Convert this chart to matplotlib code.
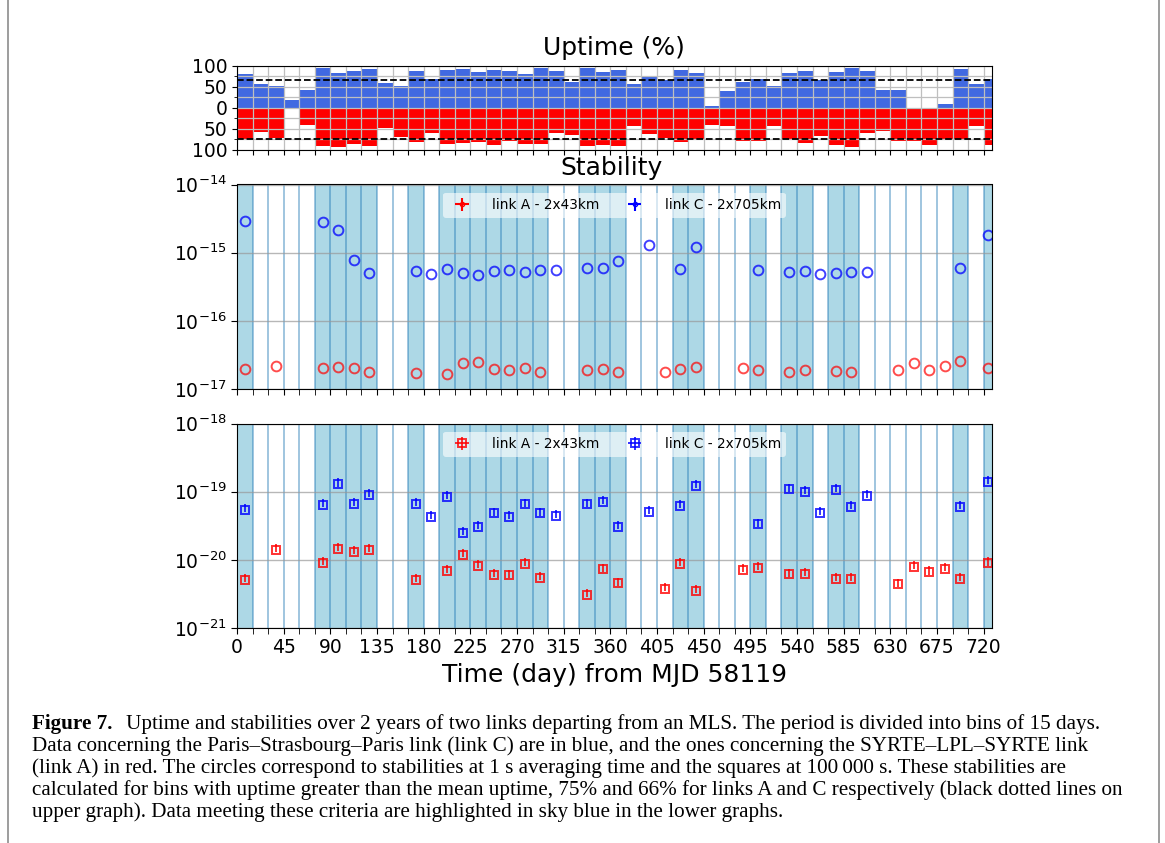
import numpy as np
import matplotlib
matplotlib.use("Agg")
import matplotlib.pyplot as plt
from matplotlib.ticker import FuncFormatter, NullLocator
from matplotlib.lines import Line2D

nan = np.nan

# bins of 15 days, the last one is cut at the end of the period
bin_edges = list(range(0, 721, 15)) + [728]

# uptime (%) per bin
uptime_C = [80, 56, 51, 18, 42, 94, 82, 87, 91, 59, 51, 87, 68, 89, 92, 85, 90, 88, 80, 94,
            88, 60, 95, 84, 90, 55, 76, 66, 90, 81, 4, 39, 60, 68, 51, 82, 88, 66, 84, 94,
            87, 42, 42, 0, 0, 8, 91, 56, 68]
uptime_A = [78, 59, 73, 0, 41, 92, 95, 86, 91, 49, 70, 82, 61, 86, 84, 82, 90, 80, 86, 86,
            61, 65, 91, 90, 91, 43, 62, 73, 82, 77, 41, 45, 80, 80, 43, 78, 84, 68, 90, 94,
            61, 55, 80, 80, 90, 74, 76, 45, 90]
mean_C = 66
mean_A = 75

# stability at 1 s (circles)
adev1_C = [2.9e-15, nan, nan, nan, nan, 2.8e-15, 2.15e-15, 7.8e-16, 5.1e-16, nan,
           nan, 5.3e-16, 4.85e-16, 5.7e-16, 5.1e-16, 4.7e-16, 5.3e-16, 5.5e-16, 5.2e-16, 5.5e-16,
           5.5e-16, nan, 5.9e-16, 6.0e-16, 7.6e-16, nan, 1.31e-15, nan, 5.7e-16, 1.21e-15,
           nan, nan, nan, 5.5e-16, nan, 5.2e-16, 5.4e-16, 4.9e-16, 4.95e-16, 5.2e-16,
           5.2e-16, nan, nan, nan, nan, nan, 6.0e-16, nan, 1.8e-15]
adev1_A = [1.95e-17, nan, 2.15e-17, nan, nan, 2.06e-17, 2.1e-17, 2.06e-17, 1.76e-17, nan,
           nan, 1.7e-17, nan, 1.64e-17, 2.38e-17, 2.46e-17, 1.95e-17, 1.9e-17, 2.0e-17, 1.75e-17,
           nan, nan, 1.9e-17, 1.95e-17, 1.8e-17, nan, nan, 1.75e-17, 1.95e-17, 2.1e-17,
           nan, nan, 2.06e-17, 1.9e-17, nan, 1.76e-17, 1.9e-17, nan, 1.85e-17, 1.78e-17,
           nan, nan, 1.9e-17, 2.38e-17, 1.9e-17, 2.15e-17, 2.55e-17, nan, 2.06e-17]

# stability at 100 000 s (squares)
adev5_C = [5.4e-20, nan, nan, nan, nan, 6.35e-20, 1.28e-19, 6.7e-20, 8.9e-20, nan,
           nan, 6.7e-20, 4.3e-20, 8.4e-20, 2.5e-20, 3.06e-20, 4.8e-20, 4.2e-20, 6.5e-20, 4.8e-20,
           4.4e-20, nan, 6.5e-20, 7.1e-20, 3.06e-20, nan, 5.07e-20, nan, 6.2e-20, 1.22e-19,
           nan, nan, nan, 3.3e-20, nan, 1.08e-19, 1.0e-19, 4.9e-20, 1.05e-19, 6.0e-20,
           8.6e-20, nan, nan, nan, nan, nan, 6.0e-20, nan, 1.4e-19]
adev5_A = [5.06e-21, nan, 1.39e-20, nan, nan, 9.1e-21, 1.44e-20, 1.31e-20, 1.39e-20, nan,
           nan, 5.06e-21, nan, 6.85e-21, 1.17e-20, 8.2e-21, 5.98e-21, 5.9e-21, 8.67e-21, 5.35e-21,
           nan, nan, 3.05e-21, 7.24e-21, 4.5e-21, nan, nan, 3.7e-21, 8.6e-21, 3.49e-21,
           nan, nan, 7.08e-21, 7.5e-21, nan, 6.1e-21, 6.3e-21, nan, 5.2e-21, 5.2e-21,
           nan, nan, 4.36e-21, 7.94e-21, 6.55e-21, 7.33e-21, 5.2e-21, nan, 8.87e-21]

labels = ["link A - 2x43km", "link C - 2x705km"]

edges = np.array(bin_edges, dtype=float)
left = edges[:-1]
width = np.diff(edges)
centers = left + width / 2
upC = np.array(uptime_C)
upA = np.array(uptime_A)
good = (upC > mean_C) & (upA > mean_A)

W, H = 1165, 843
fig = plt.figure(figsize=(W / 100, H / 100), dpi=100)


def add_ax(l, t, r, b):
    return fig.add_axes([l / W, 1 - b / H, (r - l) / W, (b - t) / H])


tick_fs = 13.5
xmax = edges[-1]

# ---- uptime
ax0 = add_ax(237, 65.5, 992, 149.5)
ax0.bar(left, upC, width=width, align="edge", color="royalblue", lw=0)
ax0.bar(left, -upA, width=width, align="edge", color="red", lw=0)
ax0.axhline(mean_C, color="k", ls="--", lw=1.3, zorder=3)
ax0.axhline(-mean_A, color="k", ls="--", lw=1.3, zorder=3)
ax0.set_xlim(0, xmax)
ax0.set_ylim(-100, 100)
ax0.set_yticks([-100, -50, 0, 50, 100])
ax0.set_yticks([-75, -25, 25, 75], minor=True)
ax0.yaxis.set_major_formatter(FuncFormatter(lambda v, p: f"{abs(v):.0f}"))
ax0.set_xticks(edges[:-1])
ax0.set_xticklabels([])
ax0.grid(True, which="both", color="0.75", lw=0.9)
ax0.tick_params(labelsize=tick_fs)
fig.text(614 / W, 1 - 48 / H, "Uptime (%)", fontsize=18, ha="center", va="center")

# ---- stability
ax1 = add_ax(237, 184.5, 992, 389)
ax2 = add_ax(237, 423.5, 992, 628)
for ax, lims in ((ax1, (1e-17, 1e-14)), (ax2, (1e-21, 1e-18))):
    ax.set_yscale("log")
    ax.set_ylim(*lims)
    ax.set_xlim(0, xmax)
    for i in range(len(left)):
        if good[i]:
            ax.axvspan(edges[i], edges[i + 1], color="lightblue", lw=0, zorder=0)
    for e in edges[1:-1]:
        ax.axvline(e, color="tab:blue", alpha=0.5, lw=1.2, zorder=0.5)
    ax.yaxis.set_minor_locator(NullLocator())
    ax.grid(True, axis="y", color="0.6", lw=1.0, alpha=0.7)
    ax.set_xticks(range(0, 721, 45))
    ax.set_xticks(edges[:-1], minor=True)
    ax.tick_params(which="both", length=4, labelsize=tick_fs)

ax1.set_xticklabels([])
ax1.set_yticks([1e-17, 1e-16, 1e-15, 1e-14])
ax2.set_yticks([1e-21, 1e-20, 1e-19, 1e-18])
fig.text(612 / W, 1 - 168 / H, "Stability", fontsize=18, ha="center", va="center")

ax1.plot(centers, adev1_A, "o", ls="none", mfc="none", mec="red", ms=7, mew=1.4, alpha=0.7)
ax1.plot(centers, adev1_C, "o", ls="none", mfc="none", mec="blue", ms=7, mew=1.4, alpha=0.75)
hA = ax1.errorbar([nan], [nan], xerr=[1], yerr=[1], fmt="o", ms=3, mfc="none",
                  color="red", elinewidth=1.5, label=labels[0])
hC = ax1.errorbar([nan], [nan], xerr=[1], yerr=[1], fmt="o", ms=3, mfc="none",
                  color="blue", elinewidth=1.5, label=labels[1])

for vals, col, lab in ((adev5_A, "red", labels[0]), (adev5_C, "blue", labels[1])):
    v = np.array(vals)
    ax2.errorbar(centers, v, yerr=[v * 0.07, v * 0.22], xerr=np.zeros_like(v), fmt="s",
                 ms=6, mfc="none", mew=1.4, color=col, ecolor=col, elinewidth=1.4,
                 alpha=0.8, label=lab)

for ax in (ax1, ax2):
    ax.legend(loc="upper center", ncol=2, fontsize=9.8, framealpha=0.6,
              edgecolor="none", columnspacing=1.6, handletextpad=1.2, borderaxespad=0.6)

ax2.set_xlabel("Time (day) from MJD 58119", fontsize=18, labelpad=4)

# ---- caption
cap_fs = 15.2
fig.text(32 / W, 1 - 729 / H, "Figure 7.", fontsize=cap_fs, family="Liberation Serif",
         weight="bold", va="baseline")
lines = [
    "Uptime and stabilities over 2 years of two links departing from an MLS. The period is divided into bins of 15 days.",
    "Data concerning the Paris\u2013Strasbourg\u2013Paris link (link C) are in blue, and the ones concerning the SYRTE\u2013LPL\u2013SYRTE link",
    "(link A) in red. The circles correspond to stabilities at 1 s averaging time and the squares at 100\u2009000 s. These stabilities are",
    "calculated for bins with uptime greater than the mean uptime, 75% and 66% for links A and C respectively (black dotted lines on",
    "upper graph). Data meeting these criteria are highlighted in sky blue in the lower graphs.",
]
for k, txt in enumerate(lines):
    x0 = 126 if k == 0 else 32
    fig.text(x0 / W, 1 - (729 + 22 * k) / H, txt, fontsize=cap_fs,
             family=["Liberation Serif", "DejaVu Serif"], va="baseline")

# frame lines at the sides
fig.add_artist(Line2D([7.5 / W, 7.5 / W], [0, 1], color="0.55", lw=1.2))
fig.add_artist(Line2D([1158.5 / W, 1158.5 / W], [0, 1], color="0.55", lw=1.2))

fig.savefig("out.png", dpi=100)
